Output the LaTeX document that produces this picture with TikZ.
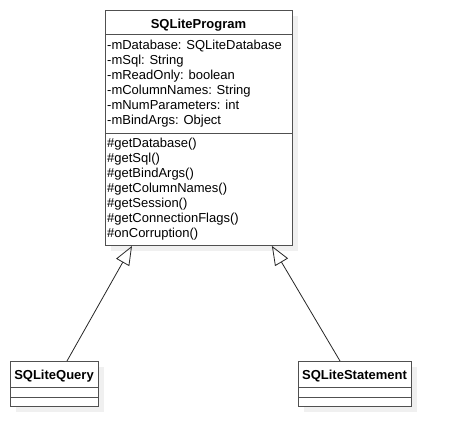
\documentclass[tikz,border=0pt]{standalone}
\usepackage{fontspec}
\setmainfont{Liberation Sans}
\usepackage{tikz}
\usetikzlibrary{arrows.meta}
\usetikzlibrary{shadows}
\definecolor{umlgray}{RGB}{80,80,80}
\definecolor{umlshade}{RGB}{240,240,240}

\tikzset{
  cls/.style={draw=umlgray,fill=white,line width=0.9pt,anchor=north west,inner sep=0pt,
              drop shadow={shadow xshift=6pt,shadow yshift=-6pt,fill=umlshade,opacity=1}},
  sepline/.style={draw=umlgray,line width=0.9pt},
  clsname/.style={anchor=base,inner sep=0pt,font=\fontsize{13}{15}\selectfont\bfseries},
  member/.style={anchor=base west,inner sep=0pt,font=\fontsize{13}{15}\selectfont},
  inherit/.style={-{Triangle[open,length=19pt,width=15pt]},line width=0.8pt,draw=black!85}
}

\begin{document}
\begin{tikzpicture}[x=1pt,y=-1pt]
    \useasboundingbox (0,0) rectangle (451,446);
    % parent class
    \node[cls,minimum width=187pt,minimum height=235pt] (prog) at (105,10) {};
    \draw[sepline] ([yshift=-24pt]prog.north west) -- ([yshift=-24pt]prog.north east);
    \draw[sepline] ([yshift=-123pt]prog.north west) -- ([yshift=-123pt]prog.north east);
    \node[clsname] (progname) at (198.5,29) {SQLiteProgram};
    \foreach \t [count=\i] in {-mDatabase: SQLiteDatabase,-mSql: String,-mReadOnly: boolean,
        -mColumnNames: String,-mNumParameters: int,-mBindArgs: Object}{
      \node[member] (attr\i) at (107,35+15*\i) {\t};
    }
    \foreach \t [count=\i] in {\#getDatabase(),\#getSql(),\#getBindArgs(),\#getColumnNames(),
        \#getSession(),\#getConnectionFlags(),\#onCorruption()}{
      \node[member] (meth\i) at (107,133+15*\i) {\t};
    }
    % subclasses
    \foreach \name/\x/\w/\label in {query/10/88/SQLiteQuery,stmt/298/113/SQLiteStatement}{
      \node[cls,minimum width=\w pt,minimum height=45pt] (\name) at (\x,361) {};
      \draw[sepline] ([yshift=-26pt]\name.north west) -- ([yshift=-26pt]\name.north east);
      \draw[sepline] ([yshift=-36pt]\name.north west) -- ([yshift=-36pt]\name.north east);
      \node[clsname] (\name name) at (\x+\w/2,380) {\label};
    }
    \draw[inherit] ([xshift=57pt]query.north west) -- ([xshift=27pt]prog.south west);
    \draw[inherit] ([xshift=42pt]stmt.north west) -- ([xshift=-21pt]prog.south east);
\end{tikzpicture}
\end{document}
